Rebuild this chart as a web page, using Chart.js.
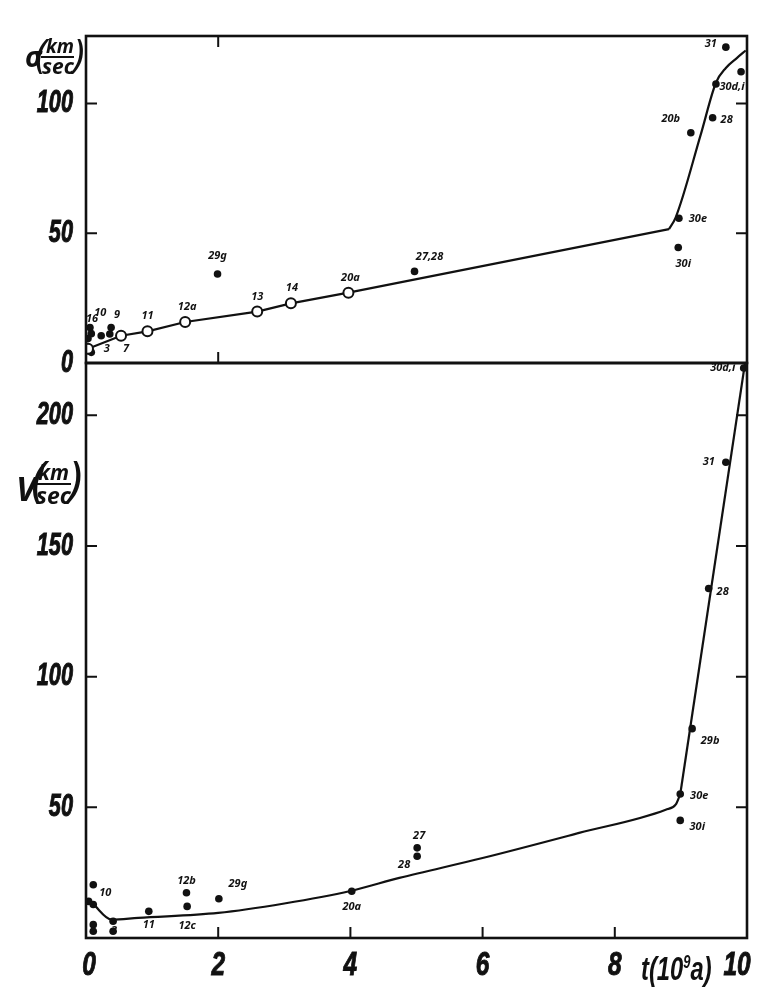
<!DOCTYPE html>
<html>
<head>
<meta charset="utf-8">
<script src="https://cdn.jsdelivr.net/npm/chart.js@4.4.1/dist/chart.umd.min.js"></script>
<style>
html,body{margin:0;padding:0;background:#fff;}
#wrap{position:relative;width:771px;height:988px;overflow:hidden;background:#fff;}
canvas{position:absolute;left:0;top:0;}
.t{position:absolute;font-family:'Noto Sans','Liberation Sans',sans-serif;font-style:italic;font-weight:bold;color:#111;white-space:nowrap;}
.p{font-weight:normal;}
.bar{position:absolute;background:#111;height:2px;}
</style>
</head>
<body>
<div id="wrap">
  <canvas id="top" width="771" height="988"></canvas>
  <canvas id="bot" width="771" height="988"></canvas>

  <!-- sigma axis title -->
  <span class="t" style="left:25px;top:42px;font-size:28px;line-height:28px;">σ</span>
  <span class="t p" style="left:35px;top:33px;font-size:40px;line-height:40px;">(</span>
  <span class="t" style="left:46px;top:37px;font-size:19px;line-height:19px;">km</span>
  <div class="bar" style="left:41px;top:56px;width:33px;"></div>
  <span class="t" style="left:42px;top:56px;font-size:21px;line-height:21px;">sec</span>
  <span class="t p" style="left:73px;top:33px;font-size:40px;line-height:40px;">)</span>

  <!-- V axis title -->
  <span class="t" style="left:16px;top:471px;font-size:34px;line-height:34px;">V</span>
  <span class="t p" style="left:31px;top:452px;font-size:50px;line-height:50px;">(</span>
  <span class="t" style="left:38px;top:462px;font-size:21px;line-height:21px;">km</span>
  <div class="bar" style="left:35px;top:483px;width:36px;"></div>
  <span class="t" style="left:36px;top:484px;font-size:23px;line-height:23px;">sec</span>
  <span class="t p" style="left:68px;top:452px;font-size:50px;line-height:50px;">)</span>

  <!-- t axis title -->
  <span class="t" style="left:641px;top:945px;font-family:'Liberation Sans',sans-serif;font-size:33px;line-height:34px;transform:scaleX(0.72);transform-origin:0 0;">t(10<sup style="font-size:18px;vertical-align:12px;">9</sup>a)</span>
</div>

<script>
// ---------- tick labels ----------
const xTicks = [0, 2, 4, 6, 8, 10];
const sigmaTicks = [0, 50, 100];
const vTicks = [50, 100, 150, 200];

// ---------- upper panel: sigma (km/sec) ----------
// fitted line, straight part (through the open circles)
const sigLineT = [0.03, 0.53, 0.93, 1.5, 2.59, 3.10, 3.97, 8.82];
const sigLineV = [5.5, 10.5, 12.2, 15.8, 19.8, 23.0, 27.1, 51.6];
// fitted line, curved upper part
const sigCurveT = [8.82, 8.92, 9.30, 9.53, 9.68, 9.85, 9.98];
const sigCurveV = [51.6, 56.0, 88.0, 108.0, 113.7, 117.6, 120.4];
// open circles
const sigOpenT = [0.03, 0.53, 0.93, 1.5, 2.59, 3.10, 3.97];
const sigOpenV = [5.5, 10.5, 12.2, 15.8, 19.8, 23.0, 27.1];
const sigOpenLbl = ['', '7', '11', '12a', '13', '14', '20a'];
// filled dots
const sigDotT = [1.99, 4.97, 8.97, 8.96, 9.15, 9.48, 9.68, 9.91, 9.53, 0.06, 0.08, 0.03, 0.03, 0.08, 0.38, 0.36, 0.23];
const sigDotV = [34.3, 35.3, 55.8, 44.5, 88.7, 94.5, 121.7, 112.2, 107.5, 13.7, 11.3, 9.4, 6.0, 4.1, 13.7, 11.2, 10.5];
const sigDotLbl = ['29g', '27,28', '30e', '30i', '20b', '28', '31', '', '30d,i', '16', '', '', '', '', '9', '3', '10'];

// ---------- lower panel: V (km/sec) ----------
const vCurveT = [0, 0.09, 0.39, 0.79, 2.0, 3.0, 4.0, 4.74, 6.0, 7.46, 8.77, 8.92, 8.99];
const vCurveV = [15.0, 13.4, 7.0, 7.7, 9.6, 13.2, 18.0, 23.0, 30.6, 40.2, 49.1, 51.0, 55.0];
const vSteepT = [8.99, 9.97];
const vSteepV = [55.0, 220.0];
const vDotT = [0.11, 0.04, 0.11, 0.11, 0.41, 0.41, 0.11, 0.95, 1.52, 1.53, 2.01, 4.02, 5.01, 5.01, 8.99, 8.99, 9.17, 9.42, 9.68, 9.95];
const vDotV = [20.4, 14.0, 12.8, 5.1, 6.4, 2.6, 2.6, 10.2, 17.3, 12.1, 15.0, 17.9, 34.5, 31.3, 45.0, 55.1, 80.1, 133.7, 182.0, 218.1];
const vDotLbl = ['', '', '10', '', '', '3', '', '11', '12b', '12c', '29g', '20a', '27', '28', '30i', '30e', '29b', '28', '31', '30d,i'];

// label placement (presentation only): offset of label centre from its point, px
const sigOpenOff = [[0,0],[5,13],[0,-15],[2,-15],[0,-15],[1,-15],[2,-15]];
const sigDotOff = [[0,-18],[15,-15],[19,1],[5,16],[-20,-14],[14,2],[-15,-3],[0,0],[16,3],[2,-9],[0,0],[0,0],[0,0],[0,0],[6,-13],[-3,15],[-1,-23]];
const vDotOff = [[0,0],[0,0],[12,-12],[0,0],[0,0],[1,0],[0,0],[0,14],[0,-12],[0,19],[19,-15],[0,16],[2,-12],[-13,9],[17,6],[19,2],[18,12],[14,3],[-17,0],[-21,0]];

const pts = (xs, ys) => xs.map((x, i) => ({x: x, y: ys[i]}));
const INK = '#111';
const FONT_FAM = "'Noto Sans','Liberation Sans',sans-serif";
const TICK_FAM = "'Liberation Sans',Arial,sans-serif";

// frame + inward tick marks
const framePlugin = {
  id: 'frame',
  afterDatasetsDraw(chart, args, opts) {
    const {ctx, chartArea: a, scales} = chart;
    ctx.save();
    ctx.strokeStyle = INK;
    ctx.lineWidth = 2.6;
    ctx.strokeRect(a.left, a.top, a.right - a.left, a.bottom - a.top);
    ctx.lineWidth = 2;
    const L = 11;
    ctx.beginPath();
    (opts.left || []).forEach(v => { const y = scales.y.getPixelForValue(v); ctx.moveTo(a.left, y); ctx.lineTo(a.left + L, y); });
    (opts.right || []).forEach(v => { const y = scales.y.getPixelForValue(v); ctx.moveTo(a.right, y); ctx.lineTo(a.right - L, y); });
    (opts.top || []).forEach(v => { const x = scales.x.getPixelForValue(v); ctx.moveTo(x, a.top); ctx.lineTo(x, a.top + L); });
    (opts.bottom || []).forEach(v => { const x = scales.x.getPixelForValue(v); ctx.moveTo(x, a.bottom); ctx.lineTo(x, a.bottom - L); });
    ctx.stroke();
    ctx.restore();
  }
};

// tick labels of the library's scales, drawn in a condensed face
const condTicks = {
  id: 'condTicks',
  afterDraw(chart, args, opts) {
    const ctx = chart.ctx, a = chart.chartArea;
    ctx.save();
    ctx.fillStyle = INK;
    ctx.strokeStyle = INK;
    ctx.lineWidth = 1;
    Object.values(chart.scales).forEach(sc => {
      const o = opts[sc.id];
      if (!o) return;
      ctx.font = 'italic bold ' + o.size + 'px ' + TICK_FAM;
      const n = sc.ticks.length;
      sc.ticks.forEach((tk, i) => {
        const p = sc.getPixelForValue(tk.value);
        const label = (tk.label !== undefined && tk.label !== '') ? String(tk.label) : String(tk.value);
        ctx.save();
        if (sc.axis === 'y') {
          ctx.translate(a.left - o.pad, p);
          ctx.textAlign = 'right'; ctx.textBaseline = 'middle';
        } else {
          const shift = (i === n - 1 ? (o.lastShift || 0) : 0) + (i === 0 ? (o.firstShift || 0) : 0);
          ctx.translate(p + shift, a.bottom + o.pad);
          ctx.textAlign = 'center'; ctx.textBaseline = 'alphabetic';
        }
        ctx.scale(o.sx, 1);
        ctx.fillText(label, 0, 0);
        ctx.strokeText(label, 0, 0);
        ctx.restore();
      });
    });
    ctx.restore();
  }
};

// small labels next to points
const labelPlugin = {
  id: 'ptlabels',
  afterDatasetsDraw(chart) {
    const ctx = chart.ctx;
    ctx.save();
    ctx.fillStyle = INK;
    ctx.font = "italic bold 11px " + FONT_FAM;
    ctx.textAlign = 'center';
    ctx.textBaseline = 'middle';
    chart.data.datasets.forEach((ds, di) => {
      if (!ds.ptLabels) return;
      const meta = chart.getDatasetMeta(di);
      meta.data.forEach((el, i) => {
        const s = ds.ptLabels[i];
        if (!s) return;
        const o = ds.ptOffsets[i] || [0, 0];
        ctx.fillText(s, el.x + o[0], el.y + o[1]);
      });
    });
    ctx.restore();
  }
};

function lineDs(data, mode) {
  return {type: 'line', data: data, borderColor: INK, borderWidth: 2.2, pointRadius: 0,
          fill: false, tension: 0, cubicInterpolationMode: mode, order: 2};
}

// ---------- upper chart ----------
new Chart(document.getElementById('top'), {
  type: 'scatter',
  data: {
    datasets: [
      lineDs(pts(sigLineT, sigLineV), 'default'),
      lineDs(pts(sigCurveT, sigCurveV), 'monotone'),
      {data: pts(sigOpenT, sigOpenV), pointRadius: 5, pointBorderWidth: 2,
       pointBackgroundColor: '#fff', pointBorderColor: INK, order: 1,
       ptLabels: sigOpenLbl, ptOffsets: sigOpenOff},
      {data: pts(sigDotT, sigDotV), pointRadius: 3.8, pointBorderWidth: 0,
       pointBackgroundColor: INK, pointBorderColor: INK, order: 1,
       ptLabels: sigDotLbl, ptOffsets: sigDotOff}
    ]
  },
  options: {
    responsive: false, animation: false, devicePixelRatio: 1,
    layout: {padding: {top: 36, right: 24, bottom: 625, left: 0}},
    plugins: {legend: {display: false}, tooltip: {enabled: false},
              frame: {left: [50, 100], right: [50, 100], top: [2], bottom: [2]},
              condTicks: {y: {size: 31, sx: 0.7, pad: 13}}},
    events: [],
    scales: {
      x: {type: 'linear', min: 0, max: 10, display: false},
      y: {type: 'linear', min: 0, max: 126,
          afterBuildTicks: s => { s.ticks = sigmaTicks.map(v => ({value: v})); },
          afterFit: s => { s.width = 86; },
          grid: {display: false, drawTicks: false}, border: {display: false},
          ticks: {display: false}}
    }
  },
  plugins: [framePlugin, labelPlugin, condTicks]
});

// ---------- lower chart ----------
new Chart(document.getElementById('bot'), {
  type: 'scatter',
  data: {
    datasets: [
      lineDs(pts(vCurveT, vCurveV), 'monotone'),
      lineDs(pts(vSteepT, vSteepV), 'default'),
      {data: pts(vDotT, vDotV), pointRadius: 3.8, pointBorderWidth: 0,
       pointBackgroundColor: INK, pointBorderColor: INK, order: 1,
       ptLabels: vDotLbl, ptOffsets: vDotOff}
    ]
  },
  options: {
    responsive: false, animation: false, devicePixelRatio: 1,
    layout: {padding: {top: 363, right: 24, bottom: 0, left: 0}},
    plugins: {legend: {display: false}, tooltip: {enabled: false},
              frame: {left: vTicks, right: vTicks, top: [], bottom: [2, 4, 6, 8]},
              condTicks: {y: {size: 31, sx: 0.7, pad: 13}, x: {size: 34, sx: 0.72, pad: 37, lastShift: -10, firstShift: 3}}},
    events: [],
    scales: {
      x: {type: 'linear', min: 0, max: 10,
          afterBuildTicks: s => { s.ticks = xTicks.map(v => ({value: v})); },
          afterFit: s => { s.height = 50; },
          grid: {display: false, drawTicks: false}, border: {display: false},
          ticks: {display: false}},
      y: {type: 'linear', min: 0, max: 220,
          afterBuildTicks: s => { s.ticks = vTicks.map(v => ({value: v})); },
          afterFit: s => { s.width = 86; },
          grid: {display: false, drawTicks: false}, border: {display: false},
          ticks: {display: false}}
    }
  },
  plugins: [framePlugin, labelPlugin, condTicks]
});
</script>
</body>
</html>
